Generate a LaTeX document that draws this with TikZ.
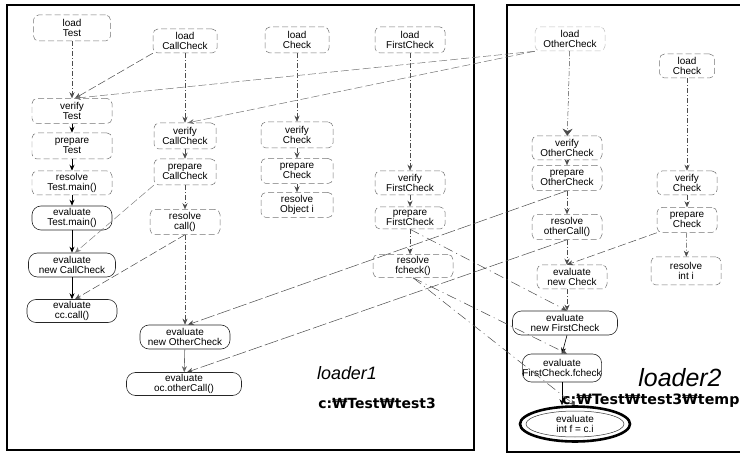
\documentclass[tikz,border=0pt]{standalone}
\usepackage{fontspec}
\setmainfont{Liberation Sans}
\newfontfamily\dejavu{DejaVu Sans}
\usetikzlibrary{arrows.meta,shapes.geometric,calc}
\tikzset{
  lbl/.style={font=\fontsize{10}{10.5}\selectfont, align=center, inner sep=0pt},
  ldn/.style={lbl, draw=black!55, dash pattern=on 6bp off 3bp, rounded corners=5bp, line width=0.5bp},
  evn/.style={lbl, draw=black!85, rounded corners=9bp, line width=0.6bp},
  arr/.style={-{Stealth[length=6bp,width=5bp]}},
  seqsolid/.style={arr, draw=black, line width=0.8bp},
  seqdash/.style={arr, draw=black!70, line width=0.5bp, dash pattern=on 5bp off 2bp on 1bp off 2bp},
  xlink/.style={arr, draw=black!70, line width=0.5bp, dash pattern=on 8bp off 3bp},
  loaderbox/.style={draw=black, line width=1.3bp},
}
\begin{document}
\begin{tikzpicture}[x=1bp,y=-1bp]
\useasboundingbox (0,0) rectangle (740,455);
\clip (0,0) rectangle (740,455);

% loader boxes
\draw[loaderbox] (7,5) rectangle (474,450);
\draw[loaderbox] (507,5) rectangle (760,452);

% ---------- loader1, column Test
\node[ldn, minimum width=77bp, minimum height=26bp] (lT) at (72,28) {load\\Test};
\node[ldn, minimum width=80bp, minimum height=25bp] (vT) at (72,111) {verify\\Test};
\node[ldn, minimum width=80bp, minimum height=26bp] (pT) at (72,146) {prepare\\Test};
\node[ldn, minimum width=80bp, minimum height=24bp] (rT) at (72,183) {resolve\\Test.main()};
\node[evn, minimum width=80bp, minimum height=24bp] (eTm) at (72,218) {evaluate\\Test.main()};
\node[evn, minimum width=87bp, minimum height=24bp] (eNC) at (72,265) {evaluate\\new CallCheck};
\node[evn, minimum width=90bp, minimum height=23bp] (eCC) at (72,311) {evaluate\\cc.call()};

% ---------- loader1, column CallCheck
\node[ldn, minimum width=64bp, minimum height=24bp] (lCC) at (185,41) {load\\CallCheck};
\node[ldn, minimum width=62bp, minimum height=26bp] (vCC) at (185,136) {verify\\CallCheck};
\node[ldn, minimum width=62bp, minimum height=26bp] (pCC) at (185,172) {prepare\\CallCheck};
\node[ldn, minimum width=70bp, minimum height=25bp] (rCall) at (185,222) {resolve\\call()};
\node[evn, minimum width=90bp, minimum height=24bp] (eNOC) at (185,337) {evaluate\\new OtherCheck};
\node[evn, minimum width=115bp, minimum height=23bp] (eOC) at (184,384) {evaluate\\oc.otherCall()};

% ---------- loader1, column Check
\node[ldn, minimum width=64bp, minimum height=26bp] (lC) at (297,40) {load\\Check};
\node[ldn, minimum width=72bp, minimum height=26bp] (vC) at (297,135) {verify\\Check};
\node[ldn, minimum width=72bp, minimum height=25bp] (pC) at (297,171) {prepare\\Check};
\node[ldn, minimum width=72bp, minimum height=25bp] (rO) at (297,205) {resolve\\Object i};

% ---------- loader1, column FirstCheck
\node[ldn, minimum width=70bp, minimum height=26bp] (lF) at (410,40) {load\\FirstCheck};
\node[ldn, minimum width=70bp, minimum height=24bp] (vF) at (410,183) {verify\\FirstCheck};
\node[ldn, minimum width=70bp, minimum height=22bp] (pF) at (410,218) {prepare\\FirstCheck};
\node[ldn, minimum width=80bp, minimum height=23bp] (rF) at (413,266) {resolve\\fcheck()};

% ---------- loader2, column OtherCheck
\node[ldn, draw=black!25, minimum width=70bp, minimum height=24bp] (lOC) at (570,39) {load\\OtherCheck};
\node[ldn, minimum width=70bp, minimum height=24bp] (vOC) at (567,148) {verify\\OtherCheck};
\node[ldn, minimum width=70bp, minimum height=25bp] (pOC) at (567,178) {prepare\\OtherCheck};
\node[ldn, minimum width=70bp, minimum height=25bp] (rOC) at (567,227) {resolve\\otherCall()};
\node[ldn, minimum width=70bp, minimum height=24bp] (eNCh) at (572,277) {evaluate\\new Check};
\node[evn, minimum width=105bp, minimum height=24bp] (eNF) at (565,323) {evaluate\\new FirstCheck};
\node[evn, minimum width=75bp, minimum height=28bp] (eFF) at (562,368) {evaluate\\FirstCheck.fcheck};
\node[lbl, ellipse, draw=black, line width=2.6bp, minimum width=110bp, minimum height=35bp] (eIF) at (575,424) {evaluate\\int f = c.i};
\draw[black!80, line width=0.5bp] (eIF.center) ellipse [x radius=49, y radius=13];

% ---------- loader2, column Check
\node[ldn, minimum width=55bp, minimum height=24bp] (lCh) at (687,66) {load\\Check};
\node[ldn, minimum width=60bp, minimum height=24bp] (vCh) at (687,183) {verify\\Check};
\node[ldn, minimum width=60bp, minimum height=25bp] (pCh) at (687,220) {prepare\\Check};
\node[ldn, minimum width=70bp, minimum height=28bp] (rI) at (686,271) {resolve\\int i};

% ---------- labels
\node[font=\fontsize{18}{18}\selectfont\itshape, inner sep=0pt] (l1) at (347,373) {loader1};
\node[font=\dejavu\bfseries\fontsize{14}{14}\selectfont, inner sep=0pt] (p1) at (377,403) {c:₩Test₩test3};
\node[font=\fontsize{25}{25}\selectfont\itshape, inner sep=0pt] (l2) at (680,378) {loader2};
\node[font=\dejavu\bfseries\fontsize{14.3}{14.3}\selectfont, inner sep=0pt, anchor=west] (p2) at (562,401) {c:₩Test₩test3₩temp};

% ---------- sequences (vertical)
\draw[seqdash] (lT) -- (vT);
\draw[seqsolid] (vT) -- (pT);
\draw[seqsolid] (pT) -- (rT);
\draw[seqsolid] (rT) -- (eTm);
\draw[seqsolid] (eTm) -- (eNC);
\draw[seqsolid, line width=0.6bp] (eNC) -- (eCC);

\draw[seqdash] (lCC) -- (vCC);
\draw[seqdash] (vCC) -- (pCC);
\draw[seqdash] (pCC) -- (rCall);
\draw[seqdash] (rCall) -- (eNOC);
\draw[seqsolid, draw=black!60, line width=0.6bp] (eNOC) -- (eOC);

\draw[seqdash] (lC) -- (vC);
\draw[seqdash] (vC) -- (pC);
\draw[seqdash] (pC) -- (rO);

\draw[seqdash] (lF) -- (vF);
\draw[seqdash] (vF) -- (pF);
\draw[seqdash] (pF) -- ($(rF.north)+(-3,0)$);

\draw[seqdash, -{Stealth[length=7bp,width=10bp]}] (lOC) -- (vOC);
\draw[seqdash] (vOC) -- (pOC);
\draw[seqdash] (pOC) -- (rOC);
\draw[seqdash] (rOC) -- ($(eNCh.north)+(-5,0)$);
\draw[seqdash] ($(eNCh.south)+(-5,0)$) -- ($(eNF.north)+(2,0)$);
\draw[seqsolid, line width=0.6bp] ($(eNF.south)+(2,0)$) -- (eFF.north);
\draw[seqsolid, line width=0.6bp] (eFF.south) -- (eFF.south |- eIF.north);

\draw[seqdash] (lCh) -- (vCh);
\draw[seqdash] (vCh) -- (pCh);
\draw[seqdash] (pCh) -- (rI);

% ---------- cross links
\draw[xlink] (lCC.south west) -- ($(vT.north)+(3,0)$);
\draw[xlink, black!55] (lOC.south west) -- ($(vT.north)+(3,0)$);
\draw[xlink, black!55] (lOC.south west) -- ($(vCC.north)+(3,0)$);
\draw[xlink, black!50] (pCC.south west) -- ($(eNC.north)+(3,0)$);
\draw[xlink] (rCall.south) -- ($(eCC.north)+(3,0)$);
\draw[xlink, dash pattern=on 14bp off 3bp] (pOC.south) -- ($(eNOC.north)+(3,0)$);
\draw[xlink, dash pattern=on 14bp off 3bp] (rOC.south) -- ($(eOC.north)+(3,0)$);
\draw[xlink] (pCh.south west) -- ($(eNCh.north)+(-5,0)$);
\draw[xlink, dash pattern=on 10bp off 4bp on 1bp off 4bp] (pF.south) -- ($(eNF.north)+(2,0)$);
\draw[xlink, dash pattern=on 10bp off 4bp on 1bp off 4bp] (rF.south) -- ($(eFF.north)+(5,0)$);
\draw[xlink, dash pattern=on 10bp off 4bp on 1bp off 4bp] (rF.south) -- ($(eIF.north)+(0,0)$);
\end{tikzpicture}
\end{document}
